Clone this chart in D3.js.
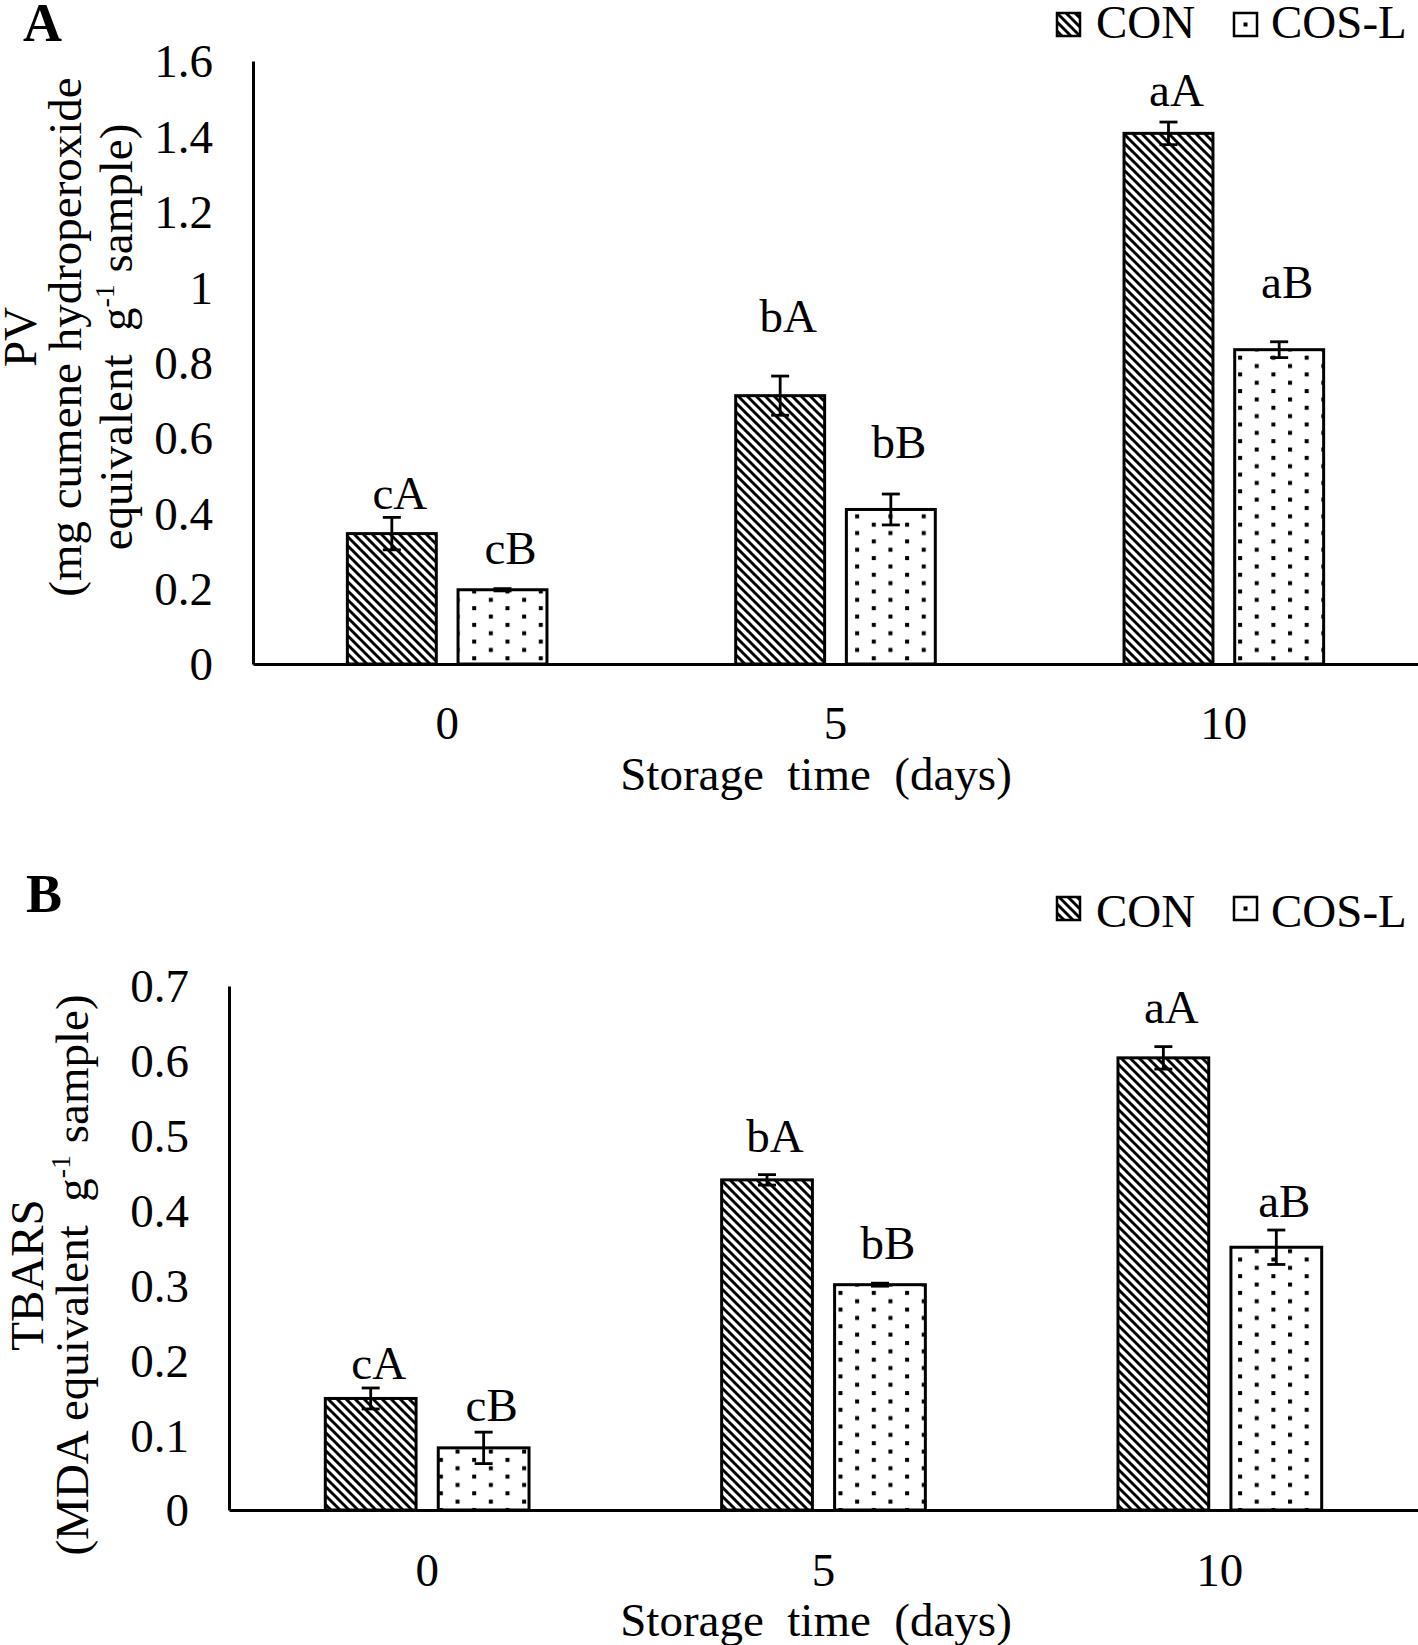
<!DOCTYPE html>
<html><head><meta charset="utf-8">
<script src="https://cdn.jsdelivr.net/npm/d3@7"></script>
<style>
body{margin:0;background:#fff;}
svg{display:block;font-family:"Liberation Serif","Times New Roman",serif;}
text{white-space:pre;}
</style></head><body>
<svg id="chart" width="1418" height="1645"></svg>
<script>
// ---------- DATA ----------
const categories = ["0", "5", "10"];
const seriesNames = ["CON", "COS-L"];

// Panel A: PV
const pvCON = [0.346, 0.712, 1.408];
const pvCOSL = [0.197, 0.410, 0.834];
const pvErrCON = [0.043, 0.052, 0.030];
const pvErrCOSL = [0.003, 0.041, 0.021];
const pvLettersCON = ["cA", "bA", "aA"];
const pvLettersCOSL = ["cB", "bB", "aB"];
const pvLetterAnchorCON = [0.411, 0.881, 1.480];
const pvLetterAnchorCOSL = [0.265, 0.546, 0.971];
const pvTicks = [0, 0.2, 0.4, 0.6, 0.8, 1.0, 1.2, 1.4, 1.6];
const pvTickLabels = ["0", "0.2", "0.4", "0.6", "0.8", "1", "1.2", "1.4", "1.6"];

// Panel B: TBARS
const tbCON = [0.149, 0.441, 0.604];
const tbCOSL = [0.083, 0.301, 0.351];
const tbErrCON = [0.014, 0.007, 0.015];
const tbErrCOSL = [0.021, 0.002, 0.023];
const tbLettersCON = ["cA", "bA", "aA"];
const tbLettersCOSL = ["cB", "bB", "aB"];
const tbLetterAnchorCON = [0.175, 0.478, 0.651];
const tbLetterAnchorCOSL = [0.119, 0.335, 0.391];
const tbTicks = [0, 0.1, 0.2, 0.3, 0.4, 0.5, 0.6, 0.7];
const tbTickLabels = ["0", "0.1", "0.2", "0.3", "0.4", "0.5", "0.6", "0.7"];

const xTitle = "Storage  time  (days)";

// ---------- RENDER ----------
const svg = d3.select("#chart");
const defs = svg.append("defs");
const FS = 47;

// diagonal pattern (CON)
const dp = 9;
const diag = defs.append("pattern").attr("id", "diag")
  .attr("patternUnits", "userSpaceOnUse").attr("width", dp).attr("height", dp);
diag.append("rect").attr("width", dp).attr("height", dp).attr("fill", "#fff");
diag.append("path")
  .attr("d", `M-1,-1L${dp+1},${dp+1}M-1,${dp-1}L1,${dp+1}M${dp-1},-1L${dp+1},1`)
  .attr("stroke", "#000").attr("stroke-width", 2.9);

// dotted pattern (COS-L)
const dw = 33.3, dh = 16.7, ds = 4;
const dots = defs.append("pattern").attr("id", "dots")
  .attr("patternUnits", "userSpaceOnUse").attr("width", dw).attr("height", dh)
  .attr("x", 4).attr("y", 3);
dots.append("rect").attr("width", dw).attr("height", dh).attr("fill", "#fff");
dots.append("rect").attr("x", 2).attr("y", 2).attr("width", ds).attr("height", ds).attr("fill", "#000");
dots.append("rect").attr("x", 2 + dw/2).attr("y", 2 + dh/2).attr("width", ds).attr("height", ds).attr("fill", "#000");

const fills = ["url(#diag)", "url(#dots)"];

function drawPanel(cfg) {
  const g = svg.append("g");
  const x = d3.scaleBand().domain(categories).range([cfg.left, cfg.right]).paddingInner(0).paddingOuter(0);
  const y = d3.scaleLinear().domain([0, cfg.yMax]).range([cfg.bottom, cfg.top]);
  const bw = x.bandwidth();
  const barW = bw * 0.229, gap = bw * 0.056;
  const series = [
    {name: seriesNames[0], vals: cfg.con, err: cfg.errCon, letters: cfg.lettersCon, anchor: cfg.anchorCon, off: -gap/2 - barW},
    {name: seriesNames[1], vals: cfg.cos, err: cfg.errCos, letters: cfg.lettersCos, anchor: cfg.anchorCos, off: gap/2}
  ];

  series.forEach((s, si) => {
    const gs = g.append("g");
    const recs = categories.map((c, i) => ({c, v: s.vals[i], e: s.err[i], l: s.letters[i], a: s.anchor[i]}));
    gs.selectAll("rect").data(recs).join("rect")
      .attr("x", d => x(d.c) + bw/2 + s.off)
      .attr("y", d => y(d.v))
      .attr("width", barW)
      .attr("height", d => y(0) - y(d.v))
      .attr("fill", fills[si])
      .attr("stroke", "#000").attr("stroke-width", 3);
    // error bars
    const cx = d => x(d.c) + bw/2 + s.off + barW/2;
    const eg = gs.selectAll("g.err").data(recs).join("g").attr("class", "err")
      .attr("stroke", "#000").attr("stroke-width", 2.8);
    eg.append("line").attr("x1", cx).attr("x2", cx).attr("y1", d => y(d.v - d.e)).attr("y2", d => y(d.v + d.e));
    eg.append("line").attr("x1", d => cx(d) - 9).attr("x2", d => cx(d) + 9).attr("y1", d => y(d.v + d.e)).attr("y2", d => y(d.v + d.e));
    eg.append("line").attr("x1", d => cx(d) - 9).attr("x2", d => cx(d) + 9).attr("y1", d => y(d.v - d.e)).attr("y2", d => y(d.v - d.e));
    // letters
    gs.selectAll("text.lt").data(recs).join("text").attr("class", "lt")
      .attr("x", d => cx(d) + 8).attr("y", d => y(d.a))
      .attr("text-anchor", "middle").attr("font-size", FS).text(d => d.l);
  });

  // axes
  const ya = g.append("g").attr("transform", `translate(${cfg.left},0)`)
    .call(d3.axisLeft(y).tickValues(cfg.ticks).tickFormat((d, i) => cfg.tickLabels[i]).tickSize(0).tickPadding(40));
  ya.attr("font-size", FS).attr("font-family", null);
  ya.select(".domain").attr("stroke", "#000").attr("stroke-width", 3);
  ya.selectAll("text").attr("fill", "#000").attr("dy", "0.34em");

  const xa = g.append("g").attr("transform", `translate(0,${cfg.bottom})`)
    .call(d3.axisBottom(x).tickSize(0).tickSizeOuter(0).tickPadding(cfg.xPad));
  xa.attr("font-size", FS).attr("font-family", null);
  xa.select(".domain").attr("stroke", "#000").attr("stroke-width", 3);
  xa.selectAll("text").attr("fill", "#000");

  // x title
  g.append("text").attr("x", 816).attr("y", cfg.xTitleY).attr("text-anchor", "middle")
    .attr("font-size", FS).text(xTitle);

  // y title lines
  cfg.yLines.forEach(line => {
    const t = g.append("text").attr("transform", `translate(${line.x},${cfg.yTitleC}) rotate(-90)`)
      .attr("text-anchor", "middle").attr("font-size", FS);
    line.parts.forEach(p => {
      if (p.sup) {
        t.append("tspan").attr("font-size", 28).attr("dy", -18).text(p.t);
      } else {
        t.append("tspan").attr("dy", p.after ? 18 : 0).text(p.t);
      }
    });
  });

  // panel letter
  g.append("text").attr("x", cfg.letterX).attr("y", cfg.letterY)
    .attr("font-size", 54).attr("font-weight", "bold").text(cfg.letter);

  // legend
  const lg = g.append("g");
  const sw = 23;
  lg.append("rect").attr("x", 1057).attr("y", cfg.legTop).attr("width", sw).attr("height", sw)
    .attr("fill", "url(#diag)").attr("stroke", "#000").attr("stroke-width", 2.5);
  lg.append("text").attr("x", 1096).attr("y", cfg.legText).attr("font-size", FS).text(seriesNames[0]);
  lg.append("rect").attr("x", 1234).attr("y", cfg.legTop).attr("width", sw).attr("height", sw)
    .attr("fill", "#fff").attr("stroke", "#000").attr("stroke-width", 2.5);
  lg.append("rect").attr("x", 1234 + sw/2 - 2).attr("y", cfg.legTop + sw/2 - 2).attr("width", 4).attr("height", 4).attr("fill", "#000");
  lg.append("text").attr("x", 1271).attr("y", cfg.legText).attr("font-size", FS).text(seriesNames[1]);
}

drawPanel({
  left: 253, right: 1418, top: 61, bottom: 664, yMax: 1.6,
  ticks: pvTicks, tickLabels: pvTickLabels,
  con: pvCON, cos: pvCOSL, errCon: pvErrCON, errCos: pvErrCOSL,
  lettersCon: pvLettersCON, lettersCos: pvLettersCOSL,
  anchorCon: pvLetterAnchorCON, anchorCos: pvLetterAnchorCOSL,
  xPad: 42, xTitleY: 790,
  yTitleC: 337,
  yLines: [
    {x: 36, parts: [{t: "PV"}]},
    {x: 81, parts: [{t: "(mg cumene hydroperoxide"}]},
    {x: 132, parts: [{t: "equivalent  g"}, {t: "-1", sup: true}, {t: " sample)", after: true}]}
  ],
  letter: "A", letterX: 23, letterY: 41,
  legTop: 13, legText: 38
});

drawPanel({
  left: 229, right: 1418, top: 986, bottom: 1510, yMax: 0.7,
  ticks: tbTicks, tickLabels: tbTickLabels,
  con: tbCON, cos: tbCOSL, errCon: tbErrCON, errCos: tbErrCOSL,
  lettersCon: tbLettersCON, lettersCos: tbLettersCOSL,
  anchorCon: tbLetterAnchorCON, anchorCos: tbLetterAnchorCOSL,
  xPad: 43, xTitleY: 1636,
  yTitleC: 1275,
  yLines: [
    {x: 43, parts: [{t: "TBARS"}]},
    {x: 88, parts: [{t: "(MDA equivalent  g"}, {t: "-1", sup: true}, {t: " sample)", after: true}]}
  ],
  letter: "B", letterX: 26, letterY: 912,
  legTop: 897, legText: 927
});
</script>
</body></html>
